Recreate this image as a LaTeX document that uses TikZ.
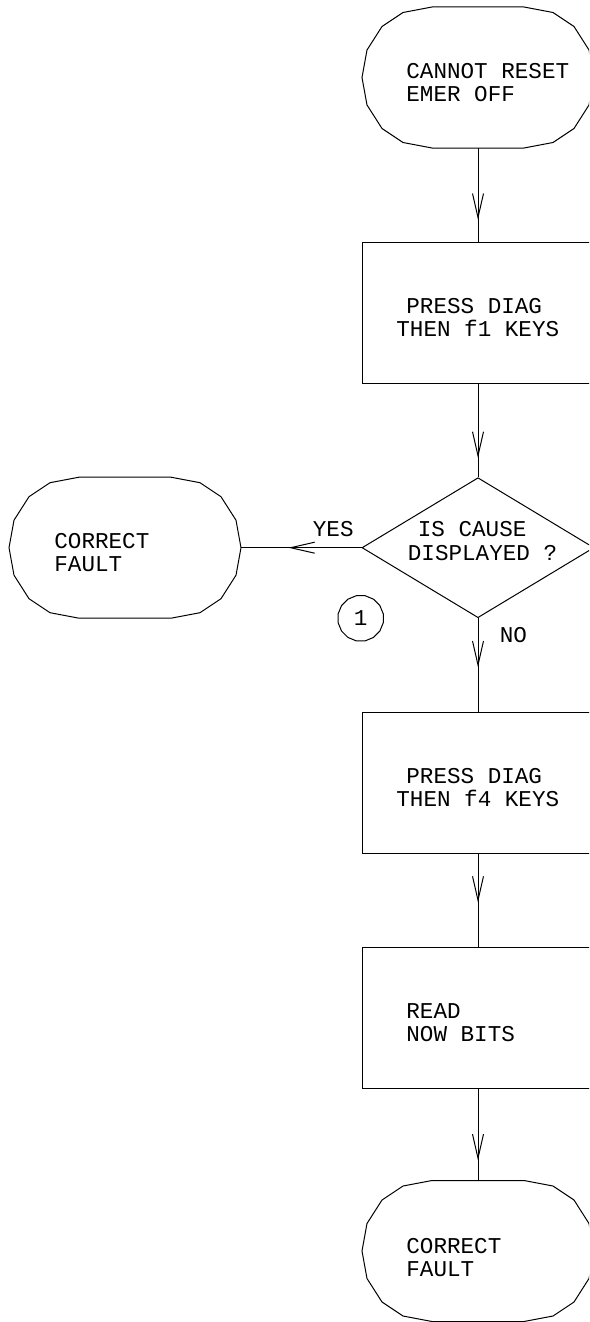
\documentclass[tikz,border=0pt]{standalone}
\usepackage{fontspec}
\setmonofont{Liberation Mono}
\usetikzlibrary{decorations.markings,shapes.geometric}
\tikzset{
  lbl/.style={font=\ttfamily\fontsize{11.3}{13}\selectfont, inner sep=0pt, anchor=base west},
  box/.style={draw, line width=0.5pt, rectangle, minimum width=116pt, minimum height=70.5pt, inner sep=0pt},
  dec/.style={draw, line width=0.5pt, diamond, minimum width=116pt, minimum height=70pt, inner sep=0pt},
  termarea/.style={rectangle, minimum width=116pt, minimum height=70.5pt, inner sep=0pt},
  conn/.style={line width=0.5pt},
  vmark/.style={postaction={decorate}, decoration={markings,
      mark=at position #1 with {\draw[line width=0.5pt] (-24,5.5) -- (0,0) -- (-24,-5.5);}}},
  refmark/.style={draw, line width=0.5pt, regular polygon, regular polygon sides=16, minimum size=23pt, inner sep=0pt,
      font=\ttfamily\fontsize{11.3}{13}\selectfont}
}
\newcommand\termpoly[1]{%
  \draw[line width=0.5pt, shift={(#1.center)}]
    (-46,-70.5) -- (-75,-65) -- (-96,-51) -- (-111,-27.5) -- (-116,0) -- (-111,27.5) -- (-96,51) -- (-75,65) -- (-46,70.5)
    -- (46,70.5) -- (75,65) -- (96,51) -- (111,27.5) -- (116,0) -- (111,-27.5) -- (96,-51) -- (75,-65) -- (46,-70.5) -- cycle;}
\begin{document}
\begin{tikzpicture}[x=0.5pt,y=-0.5pt]
\useasboundingbox (0,0) rectangle (589,1322);
\clip (0,0) rectangle (589,1322);
\fill[white] (0,0) rectangle (589,1322);

% terminals
\node[termarea] (t1) at (478,77.5) {};
\termpoly{t1}
\node[lbl] (t1a) at (406,78.3) {CANNOT RESET};
\node[lbl] (t1b) at (406,101.7) {EMER OFF};

\node[termarea] (t3) at (125,547.7) {};
\termpoly{t3}
\node[lbl] (t3a) at (54,548.3) {CORRECT};
\node[lbl] (t3b) at (54,571.7) {FAULT};

\node[termarea] (t2) at (478,1251) {};
\termpoly{t2}
\node[lbl] (t2a) at (406,1253.3) {CORRECT};
\node[lbl] (t2b) at (406,1276.7) {FAULT};

% boxes
\node[box] (b1) at (478,312.8) {};
\node[lbl] (b1a) at (406,313.3) {PRESS DIAG};
\node[lbl] (b1b) at (396,336.7) {THEN f1 KEYS};

\node[dec] (d1) at (478,547.7) {};
\node[lbl] (d1a) at (417.5,536.7) {IS CAUSE};
\node[lbl] (d1b) at (407.5,560) {DISPLAYED ?};

\node[box] (b2) at (478,782.8) {};
\node[lbl] (b2a) at (406,783.3) {PRESS DIAG};
\node[lbl] (b2b) at (396,806.7) {THEN f4 KEYS};

\node[box] (b3) at (478,1017.7) {};
\node[lbl] (b3a) at (406,1018.3) {READ};
\node[lbl] (b3b) at (406,1041.7) {NOW BITS};

% reference mark
\node[refmark] (c1) at (360.7,618.3) {1};

% connectors
\draw[conn, vmark=0.74] (t1.south) -- (b1.north);
\draw[conn, vmark=0.77] (b1.south) -- (d1.north);
\draw[conn, vmark=0.59] (d1.west) -- (t3.east);
\draw[conn, vmark=0.5] (d1.south) -- (b2.north);
\draw[conn, vmark=0.5] (b2.south) -- (b3.north);
\draw[conn, vmark=0.76] (b3.south) -- (t2.north);

\node[lbl] (yes) at (312.5,536) {YES};
\node[lbl] (no) at (499.5,642.7) {NO};
\end{tikzpicture}
\end{document}
